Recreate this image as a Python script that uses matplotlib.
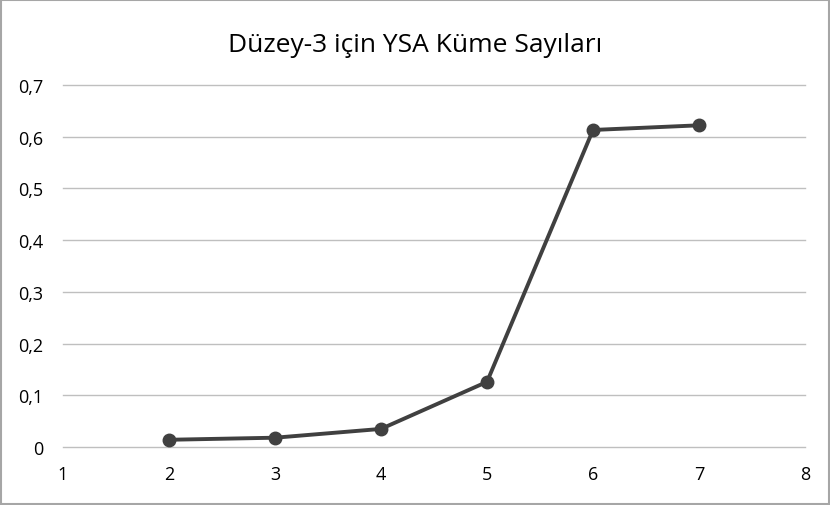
import matplotlib
matplotlib.use('Agg')
import matplotlib.pyplot as plt
from matplotlib.patches import Rectangle

# veri
kume = [2, 3, 4, 5, 6, 7]
deger = [0.014, 0.018, 0.035, 0.126, 0.613, 0.622]
y_etiket = ['0', '0,1', '0,2', '0,3', '0,4', '0,5', '0,6', '0,7']
y_tik = [0, 0.1, 0.2, 0.3, 0.4, 0.5, 0.6, 0.7]
x_tik = [1, 2, 3, 4, 5, 6, 7, 8]

plt.rcParams['font.family'] = ['Open Sans', 'DejaVu Sans']

fig = plt.figure(figsize=(8.3, 5.06), dpi=100)
ax = fig.add_axes([0.0759, 0.1146, 0.894, 0.7155])

ax.plot(kume, deger, color='#404040', lw=2.8, marker='o', ms=9,
        markerfacecolor='#404040', markeredgecolor='#404040', zorder=3,
        clip_on=False)

ax.set_xlim(1, 8)
ax.set_ylim(0, 0.7)
ax.set_yticks(y_tik)
ax.set_yticklabels(y_etiket)
ax.set_xticks(x_tik)
for yv in y_tik:
    ax.axhline(yv, color='#bfbfbf', lw=1, zorder=1, clip_on=False)
for s in ax.spines.values():
    s.set_visible(False)
ax.tick_params(length=0, labelsize=13, colors='#000000')
ax.tick_params(axis='x', pad=13)
ax.tick_params(axis='y', pad=14)

fig.text(0.5, 0.91, 'Düzey-3 için YSA Küme Sayıları', ha='center', va='center',
         fontsize=19, color='#000000')

# çerçeve
fig.patches.append(Rectangle((0.0015, 0.002), 0.997, 0.996, transform=fig.transFigure,
                             fill=False, edgecolor='#a6a6a6', lw=1.5))

fig.savefig('out.png', dpi=100)
